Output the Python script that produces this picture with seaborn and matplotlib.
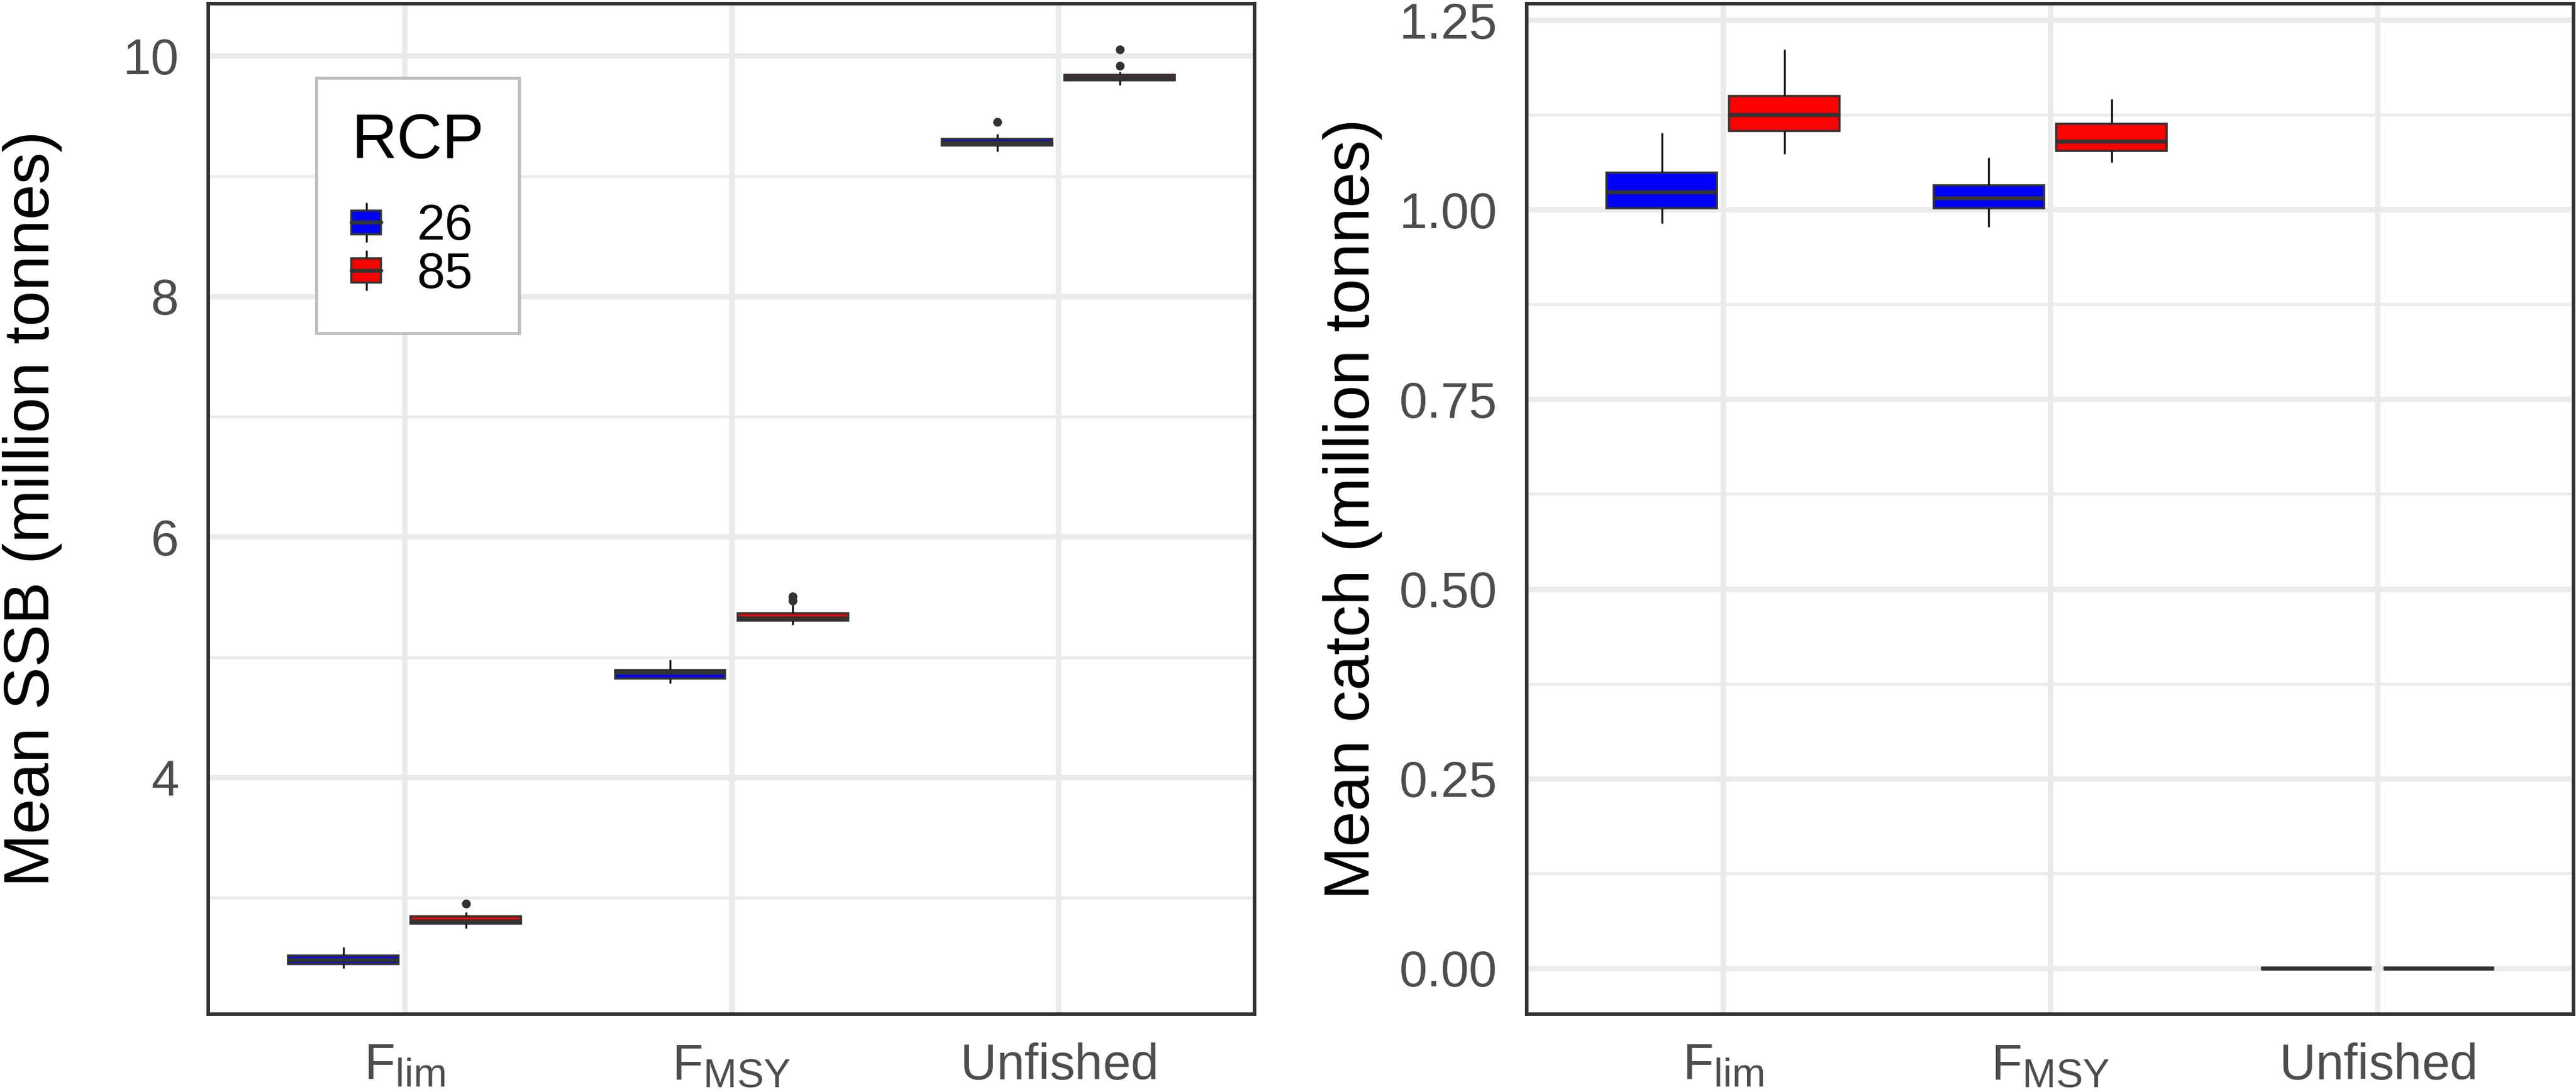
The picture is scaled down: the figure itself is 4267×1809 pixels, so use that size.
import pandas as pd
import matplotlib
matplotlib.use("Agg")
import matplotlib.pyplot as plt
import matplotlib._mathtext as mathtext_internal
import seaborn as sns
from matplotlib.lines import Line2D
from matplotlib.patches import Patch, Rectangle
from matplotlib.legend_handler import HandlerBase
from matplotlib.ticker import MultipleLocator, FormatStrFormatter

# Categories
scenarios = ['Flim', 'FMSY', 'Unfished']
scenario_labels = [r'$\mathregular{F_{lim}}$', r'$\mathregular{F_{MSY}}$', r'$\mathregular{Unfished}$']
rcps = ['26', '85']
rcp_colors = {'26': 'blue', '85': 'red'}

# Box summaries: lower whisker, Q1, median, Q3, upper whisker
ssb_26 = [[2.413, 2.446, 2.481, 2.516, 2.586],
          [4.780, 4.822, 4.872, 4.892, 4.976],
          [9.203, 9.255, 9.278, 9.308, 9.350]]
ssb_85 = [[2.742, 2.783, 2.805, 2.846, 2.881],
          [5.268, 5.303, 5.323, 5.366, 5.434],
          [9.758, 9.796, 9.818, 9.840, 9.867]]
ssb_26_outliers = [[], [], [9.450]]
ssb_85_outliers = [[2.948], [5.470, 5.505], [9.915, 10.052]]

catch_26 = [[0.9815, 1.002, 1.023, 1.049, 1.101],
            [0.977, 1.002, 1.015, 1.032, 1.069],
            [0.0, 0.0, 0.0, 0.0, 0.0]]
catch_85 = [[1.073, 1.104, 1.125, 1.150, 1.211],
            [1.062, 1.077, 1.090, 1.113, 1.146],
            [0.0, 0.0, 0.0, 0.0, 0.0]]
catch_26_outliers = [[], [], []]
catch_85_outliers = [[], [], []]

ssb_ticks = [4, 6, 8, 10]
catch_ticks = [0.0, 0.25, 0.50, 0.75, 1.00, 1.25]


def box_sample(stats, outliers):
    # a small sample whose quartiles and whiskers reproduce the summary
    lo, q1, med, q3, hi = stats
    pad = len(outliers)
    return [lo] * (1 + pad) + [q1] * 5 + [med] + [q3] * 5 + [hi] + list(outliers)


def make_frame(stats26, out26, stats85, out85):
    rows = []
    for rcp, stats, outs in [('26', stats26, out26), ('85', stats85, out85)]:
        for sc, st, ou in zip(scenarios, stats, outs):
            for v in box_sample(st, ou):
                rows.append({'scenario': sc, 'RCP': rcp, 'value': v})
    return pd.DataFrame(rows)


ssb_df = make_frame(ssb_26, ssb_26_outliers, ssb_85, ssb_85_outliers)
catch_df = make_frame(catch_26, catch_26_outliers, catch_85, catch_85_outliers)


class BoxKey(HandlerBase):
    # legend key drawn as a tiny boxplot like ggplot
    def create_artists(self, legend, orig_handle, xdescent, ydescent,
                       width, height, fontsize, trans):
        x0, y0 = -xdescent, -ydescent
        cx = x0 + width / 2
        cy = y0 + height / 2
        bh = height * 0.62
        whisker = Line2D([cx, cx], [y0, y0 + height], color='#1a1a1a', linewidth=0.8)
        box = Rectangle((x0, cy - bh / 2), width, bh,
                        facecolor=orig_handle.get_facecolor(),
                        edgecolor='#333333', linewidth=0.85)
        median = Line2D([x0, x0 + width], [cy, cy], color='#333333', linewidth=1.6)
        for a in (whisker, box, median):
            a.set_transform(trans)
        return [whisker, box, median]


# subscripts in the tick labels are a bit larger than matplotlib's default
if hasattr(mathtext_internal, 'SHRINK_FACTOR'):
    mathtext_internal.SHRINK_FACTOR = 0.8

sns.set_theme(style='white', rc={'text.color': 'black', 'axes.labelcolor': 'black'})
plt.rcParams['font.family'] = ['Liberation Sans', 'DejaVu Sans']

fig = plt.figure(figsize=(4267 / 300, 1809 / 300), dpi=300)
ax1 = fig.add_axes([0.0809, 0.0713, 0.4061, 0.9254])
ax2 = fig.add_axes([0.5927, 0.0713, 0.4064, 0.9254])


def draw_panel(ax, df, ylabel, ticks, fmt, minor_step, label_x):
    sns.boxplot(data=df, x='scenario', y='value', hue='RCP',
                order=scenarios, hue_order=rcps, palette=rcp_colors,
                saturation=1, width=0.75, gap=0.1, linecolor='#333333',
                linewidth=0.85, whis=1.5, showcaps=False, legend=False, ax=ax,
                medianprops={'linewidth': 1.6, 'color': '#333333'},
                whiskerprops={'linewidth': 0.8, 'color': '#1a1a1a'},
                flierprops={'marker': 'o', 'markerfacecolor': '#333333',
                            'markeredgecolor': '#333333', 'markersize': 3.5,
                            'markeredgewidth': 0})
    lo, hi = df['value'].min(), df['value'].max()
    span = hi - lo
    ax.set_ylim(lo - 0.05 * span, hi + 0.05 * span)
    ax.set_xlim(-0.6, 2.6)
    ax.set_yticks(ticks)
    ax.yaxis.set_major_formatter(FormatStrFormatter(fmt))
    ax.yaxis.set_minor_locator(MultipleLocator(minor_step))
    ax.set_xticks(range(len(scenarios)))
    ax.set_xticklabels(scenario_labels)

    ax.set_axisbelow(True)
    ax.grid(which='major', axis='both', color='#EBEBEB', linewidth=2.2)
    ax.grid(which='minor', axis='y', color='#EBEBEB', linewidth=1.15)
    for s in ax.spines.values():
        s.set_visible(True)
        s.set_color('#333333')
        s.set_linewidth(1.4)
    ax.tick_params(axis='both', which='major', length=6.8, width=2.5,
                   color='#333333', labelsize=20, labelcolor='#4D4D4D')
    ax.tick_params(axis='y', which='major', pad=5)
    ax.tick_params(axis='x', which='major', pad=4.5)
    ax.tick_params(which='minor', length=0)

    ax.set_xlabel('')
    ax.set_ylabel(ylabel, fontsize=25.4, color='black')
    ax.yaxis.set_label_coords(label_x, 0.5)


draw_panel(ax1, ssb_df, 'Mean SSB (million tonnes)', ssb_ticks, '%d', 1, -0.140)
draw_panel(ax2, catch_df, 'Mean catch (million tonnes)', catch_ticks, '%.2f', 0.125, -0.138)

handles = [Patch(facecolor=rcp_colors[r]) for r in rcps]
leg = ax1.legend(handles, rcps, title='RCP', handler_map={Patch: BoxKey()},
                 loc='upper left', bbox_to_anchor=(524 / 4267, 1 - 129 / 1809),
                 bbox_transform=fig.transFigure, borderaxespad=0,
                 fontsize=20, title_fontsize=25, alignment='left',
                 frameon=True, fancybox=False, edgecolor='#BEBEBE', framealpha=1,
                 borderpad=0.7, labelspacing=0.02, handlelength=0.58,
                 handleheight=0.8, handletextpad=0.72, labelcolor='black')
leg.get_frame().set_linewidth(1.2)
leg.get_title().set_color('black')
leg._legend_box.sep = 12.5

fig.savefig('out.png', dpi=300, facecolor='white')
